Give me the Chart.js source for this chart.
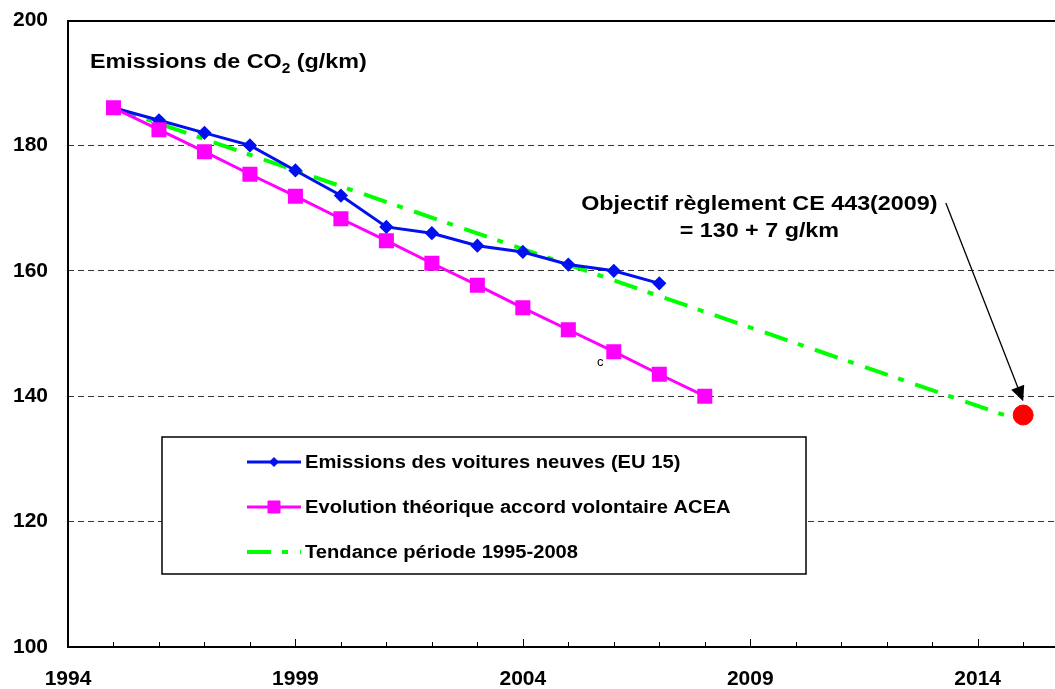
<!DOCTYPE html>
<html>
<head>
<meta charset="utf-8">
<script src="https://cdn.jsdelivr.net/npm/chart.js@4"></script>
<style>
  body { margin: 0; background: #fff; overflow: hidden; }
</style>
</head>
<body>
<canvas id="co2_chart" width="1055" height="689"></canvas>
<script>
// values
const emissionYears = [1995, 1996, 1997, 1998, 1999, 2000, 2001, 2002, 2003, 2004, 2005, 2006, 2007];
const emissionValues = [186, 184, 182, 180, 176, 172, 167, 166, 164, 163, 161, 160, 158];
const acceaYears = [1995, 1996, 1997, 1998, 1999, 2000, 2001, 2002, 2003, 2004, 2005, 2006, 2007, 2008];
const acceaValues = [186, 182.5, 179, 175.4, 171.9, 168.3, 164.8, 161.2, 157.7, 154.1, 150.6, 147.1, 143.5, 140];
const trendYears = [1995, 2014.7];
const trendValues = [186, 136.7];
const targetYears = [2015];
const targetValues = [137];
const xTickLabels = [1994, 1999, 2004, 2009, 2014];
const yTickLabels = [100, 120, 140, 160, 180, 200];

const FONT = "'Liberation Sans', Arial, sans-serif";
const pts = (xs, ys) => xs.map((x, i) => ({x: x, y: ys[i]}));

const seriesNames = [
  "Emissions des voitures neuves (EU 15)",
  "Evolution théorique accord volontaire ACEA",
  "Tendance période 1995-2008"
];

// text in the original is a bit wider than Arial, stretch it horizontally
function wideText(ctx, str, x, y, stretch) {
  ctx.save();
  ctx.translate(x, y);
  ctx.scale(stretch, 1);
  ctx.fillText(str, 0, 0);
  ctx.restore();
  return ctx.measureText(str).width * stretch;
}

const extras = {
  id: 'extras',
  afterDatasetsDraw(chart) {
    const ctx = chart.ctx;
    const a = chart.chartArea;
    const xs = chart.scales.x, ys = chart.scales.y;
    ctx.save();

    // frame: left axis, bottom axis, top border
    ctx.strokeStyle = '#000';
    ctx.lineWidth = 2;
    ctx.beginPath();
    ctx.moveTo(a.right + 2, a.top + 1);
    ctx.lineTo(a.left, a.top + 1);
    ctx.lineTo(a.left, a.bottom);
    ctx.lineTo(a.right + 2, a.bottom);
    ctx.stroke();

    // x tick marks, pointing inward
    ctx.lineWidth = 1;
    ctx.beginPath();
    for (let yr = 1995; yr <= 2015; yr++) {
      const px = Math.round(xs.getPixelForValue(yr)) + 0.5;
      const len = xTickLabels.includes(yr) ? 8 : 5;
      ctx.moveTo(px, a.bottom);
      ctx.lineTo(px, a.bottom - len);
    }
    ctx.stroke();

    // title with subscript
    ctx.fillStyle = '#000';
    ctx.textBaseline = 'alphabetic';
    ctx.textAlign = 'left';
    let tx = a.left + 22, ty = a.top + 48;
    ctx.font = 'bold 21px ' + FONT;
    tx += wideText(ctx, 'Emissions de CO', tx, ty, 1.11);
    ctx.font = 'bold 14px ' + FONT;
    tx += wideText(ctx, '2', tx, ty + 5, 1.11);
    ctx.font = 'bold 21px ' + FONT;
    wideText(ctx, ' (g/km)', tx, ty, 1.11);

    // objective annotation
    ctx.textAlign = 'center';
    ctx.textBaseline = 'middle';
    ctx.font = 'bold 21px ' + FONT;
    wideText(ctx, 'Objectif règlement CE 443(2009)', xs.getPixelForValue(2009.2), ys.getPixelForValue(170.6), 1.11);
    wideText(ctx, '= 130 + 7 g/km', xs.getPixelForValue(2009.2), ys.getPixelForValue(166.3), 1.11);

    // arrow to target
    const x0 = xs.getPixelForValue(2013.3), y0 = ys.getPixelForValue(170.8);
    const x1 = xs.getPixelForValue(2015.0), y1 = ys.getPixelForValue(139.2);
    const ang = Math.atan2(y1 - y0, x1 - x0);
    ctx.lineWidth = 1.3;
    ctx.beginPath();
    ctx.moveTo(x0, y0);
    ctx.lineTo(x1 - 13 * Math.cos(ang), y1 - 13 * Math.sin(ang));
    ctx.stroke();
    ctx.beginPath();
    ctx.moveTo(x1, y1);
    ctx.lineTo(x1 - 15 * Math.cos(ang) + 7 * Math.sin(ang), y1 - 15 * Math.sin(ang) - 7 * Math.cos(ang));
    ctx.lineTo(x1 - 15 * Math.cos(ang) - 7 * Math.sin(ang), y1 - 15 * Math.sin(ang) + 7 * Math.cos(ang));
    ctx.closePath();
    ctx.fill();

    // stray "c" label
    ctx.font = '13px ' + FONT;
    ctx.fillText('c', xs.getPixelForValue(2005.7), ys.getPixelForValue(145.4));

    // legend box
    const bx = a.left + 94, by = a.top + 417, bw = 644, bh = 137;
    ctx.fillStyle = '#fff';
    ctx.fillRect(bx, by, bw, bh);
    ctx.strokeStyle = '#000';
    ctx.lineWidth = 1.5;
    ctx.strokeRect(bx, by, bw, bh);
    const ds = chart.data.datasets;
    const rows = [by + 25, by + 70, by + 115];
    const lx0 = bx + 85, lx1 = bx + 139;
    ctx.textAlign = 'left';
    ctx.font = 'bold 18px ' + FONT;
    for (let i = 0; i < 3; i++) {
      const d = ds[i];
      const ry = rows[i];
      ctx.strokeStyle = d.borderColor;
      ctx.lineWidth = d.borderWidth;
      ctx.setLineDash(d.borderDash || []);
      ctx.beginPath();
      ctx.moveTo(lx0, ry);
      ctx.lineTo(lx1, ry);
      ctx.stroke();
      ctx.setLineDash([]);
      if (d.pointRadius) {
        ctx.fillStyle = d.pointBackgroundColor;
        ctx.strokeStyle = d.pointBorderColor;
        ctx.lineWidth = 1;
        const r = i === 0 ? 4.5 : 8.5;
        Chart.helpers.drawPoint(ctx, {pointStyle: d.pointStyle, radius: r, rotation: 0, borderWidth: 1},
          (lx0 + lx1) / 2, ry);
      }
      ctx.fillStyle = '#000';
      wideText(ctx, seriesNames[i], lx1 + 4, ry + 1, 1.12);
    }
    ctx.restore();
  }
};

new Chart(document.getElementById('co2_chart'), {
  type: 'line',
  data: {
    datasets: [{
      label: seriesNames[0],
      data: pts(emissionYears, emissionValues),
      borderColor: '#0010ee',
      backgroundColor: '#0010ee',
      borderWidth: 3,
      pointStyle: 'rectRot',
      pointRadius: 5,
      pointBackgroundColor: '#0010ee',
      pointBorderColor: '#0010ee',
      order: 2
    }, {
      label: seriesNames[1],
      data: pts(acceaYears, acceaValues),
      borderColor: '#ff00ff',
      backgroundColor: '#ff00ff',
      borderWidth: 3,
      pointStyle: 'rect',
      pointRadius: 8.5,
      pointBackgroundColor: '#ff00ff',
      pointBorderColor: '#ff00ff',
      order: 1
    }, {
      label: seriesNames[2],
      data: pts(trendYears, trendValues),
      borderColor: '#00ff00',
      borderWidth: 4,
      borderDash: [24, 11, 6, 12],
      pointRadius: 0,
      order: 3
    }, {
      label: 'Objectif',
      data: pts(targetYears, targetValues),
      showLine: false,
      pointStyle: 'circle',
      pointRadius: 10,
      pointBackgroundColor: '#ff0000',
      pointBorderColor: '#ff0000',
      order: 0
    }]
  },
  options: {
    responsive: false,
    animation: false,
    layout: {autoPadding: false, padding: {top: 20, right: 0, bottom: 0, left: 0}},
    plugins: {legend: {display: false}, tooltip: {enabled: false}},
    scales: {
      x: {
        type: 'linear',
        min: 1994,
        max: 2015.7,
        grid: {display: false},
        border: {display: false},
        afterBuildTicks: s => { s.ticks = xTickLabels.map(v => ({value: v})); },
        afterFit: s => { s.height = 42; s.paddingLeft = 0; s.paddingRight = 0; },
        ticks: {
          color: '#000',
          padding: 12,
          maxRotation: 0,
          autoSkip: false,
          font: {family: FONT, size: 21, weight: 'bold'},
          callback: v => String(v)
        }
      },
      y: {
        min: 100,
        max: 200,
        afterBuildTicks: s => { s.ticks = yTickLabels.map(v => ({value: v})); },
        afterFit: s => { s.width = 68; s.paddingTop = 0; s.paddingBottom = 0; },
        grid: {
          drawTicks: false,
          lineWidth: 1,
          color: c => (c.tick && (c.tick.value === 100 || c.tick.value === 200)) ? 'rgba(0,0,0,0)' : '#333'
        },
        border: {display: false, dash: [6, 4]},
        ticks: {
          color: '#000',
          padding: 20,
          font: {family: FONT, size: 21, weight: 'bold'}
        }
      }
    }
  },
  plugins: [extras]
});
</script>
</body>
</html>
